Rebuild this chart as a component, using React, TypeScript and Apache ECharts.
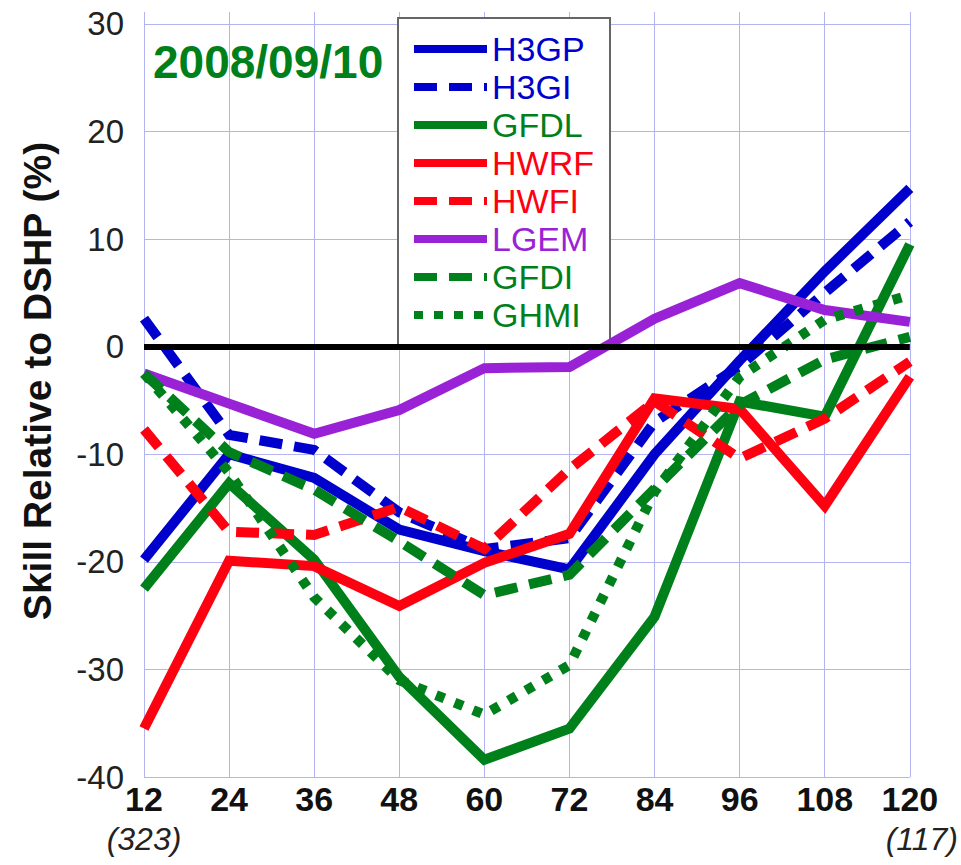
import React, { useEffect, useRef } from "react";
import * as echarts from "echarts";

const hours = ["12", "24", "36", "48", "60", "72", "84", "96", "108", "120"];
const caseCounts = { "12": "(323)", "120": "(117)" };
const yTicks = [-40, -30, -20, -10, 0, 10, 20, 30];

const H3GP = [-19.8, -10, -12.2, -17, -19, -20.7, -10, -1.3, 7, 14.7];
const H3GI = [2.6, -8.2, -9.6, -15.4, -18.8, -17.8, -7, -1.8, 5, 11.6];
const GFDL = [-22.5, -12.7, -19.8, -30.7, -38.4, -35.5, -25.1, -5.1, -6.5, 9.5];
const HWRF = [-35.5, -19.9, -20.4, -24.1, -20.1, -17.4, -4.8, -5.8, -14.8, -2.8];
const HWFI = [-7.7, -17.2, -17.5, -14.9, -18.8, -11.4, -5.1, -10.4, -6.7, -1.4];
const LGEM = [-2.5, -5.3, -8.1, -5.9, -2, -1.9, 2.6, 5.9, 3.4, 2.3];
const GFDI = [-2.5, -9.8, -13.3, -18.1, -23.1, -21.2, -13.2, -5.4, -1.2, 0.9];
const GHMI = [-2.5, -11.7, -23.3, -31, -34.2, -29.6, -13.5, -2.8, 2.5, 4.8];

const BLUE = "#0000cc";
const GREEN = "#00801a";
const RED = "#ff0010";
const PURPLE = "#9a22d6";

const FONT = "'Liberation Sans', Arial, sans-serif";

const DASH = [23, 12];
const DOT = [9, 11];

const seriesDefs = [
  { name: "H3GP", data: H3GP, color: BLUE, type: "solid" as any },
  { name: "H3GI", data: H3GI, color: BLUE, type: DASH as any },
  { name: "GFDL", data: GFDL, color: GREEN, type: "solid" as any },
  { name: "HWRF", data: HWRF, color: RED, type: "solid" as any },
  { name: "HWFI", data: HWFI, color: RED, type: DASH as any },
  { name: "LGEM", data: LGEM, color: PURPLE, type: "solid" as any },
  { name: "GFDI", data: GFDI, color: GREEN, type: DASH as any },
  { name: "GHMI", data: GHMI, color: GREEN, type: DOT as any },
];

export default function App() {
  const ref = useRef<HTMLDivElement>(null);
  useEffect(() => {
    if (!ref.current) return;
    const chart = echarts.init(ref.current, null, { renderer: "svg" });
    const gridColor = "#b4b4f2";
    const splitColors = yTicks.map(() => gridColor).concat(["rgba(0,0,0,0)"]);
    const option: any = {
      animation: false,
      backgroundColor: "#ffffff",
      textStyle: { fontFamily: FONT },
      grid: { left: 144, right: 48, top: 12, bottom: 88 },
      xAxis: {
        type: "category",
        data: hours,
        boundaryGap: false,
        axisLine: { show: false },
        axisTick: { show: false },
        splitLine: { show: true, lineStyle: { color: gridColor, width: 1 } },
        axisLabel: {
          margin: 2,
          interval: 0,
          formatter: (v: string) => {
            const c = (caseCounts as any)[v];
            if (!c) return `{b|${v}}`;
            return v === "120" ? `{b|${v}}\n{j|${c}}` : `{b|${v}}\n{i|${c}}`;
          },
          rich: {
            b: { fontSize: 34, fontWeight: "bold", color: "#111", lineHeight: 40, fontFamily: FONT },
            i: { fontSize: 32, fontStyle: "italic", color: "#222", lineHeight: 40, fontFamily: FONT },
            j: { fontSize: 32, fontStyle: "italic", color: "#222", lineHeight: 40, fontFamily: FONT, padding: [0, 0, 0, 24] },
          },
        },
      },
      yAxis: {
        type: "value",
        min: -40,
        max: 31.1,
        interval: 10,
        axisLine: { show: false },
        axisTick: { show: false },
        splitLine: { show: true, lineStyle: { color: splitColors, width: 1 } },
        axisLabel: {
          showMaxLabel: false,
          margin: 20,
          fontSize: 33,
          color: "#222",
          fontFamily: FONT,
          formatter: (v: number) => (v % 10 === 0 ? String(v) : ""),
        },
      },
      legend: {
        orient: "vertical",
        left: 410,
        top: 32,
        padding: 0,
        itemWidth: 73,
        itemHeight: 12,
        itemGap: 4,
        selectedMode: false,
        itemStyle: { color: "rgba(0,0,0,0)", borderWidth: 0, borderColor: "rgba(0,0,0,0)" },
        lineStyle: { width: 8, cap: "butt" },
        textStyle: { fontSize: 34, lineHeight: 34, fontFamily: FONT },
        data: seriesDefs.map((s) => ({ name: s.name, textStyle: { color: s.color } })),
      },
      graphic: [
        {
          type: "rect",
          z: 1,
          shape: { x: 398, y: 18, width: 212, height: 327 },
          style: { fill: "#ffffff", stroke: "#666666", lineWidth: 2 },
        },
        {
          type: "text",
          z: 5,
          x: 153,
          y: 62,
          style: {
            text: "2008/09/10",
            fill: GREEN,
            font: `bold 46px ${FONT}`,
            textAlign: "left",
            textVerticalAlign: "middle",
          },
        },
        {
          type: "text",
          z: 5,
          x: 37,
          y: 381,
          rotation: Math.PI / 2,
          style: {
            text: "Skill Relative to DSHP (%)",
            fill: "#111",
            font: `bold 39px ${FONT}`,
            textAlign: "center",
            textVerticalAlign: "middle",
          },
        },
      ],
      series: [
        ...seriesDefs.map((s) => ({
          name: s.name,
          type: "line",
          data: s.data,
          symbol: "none",
          showSymbol: false,
          z: 3,
          color: s.color,
          lineStyle: { color: s.color, width: 10, type: s.type, cap: "butt", join: "miter" },
        })),
        {
          name: "zero",
          type: "line",
          data: [],
          z: 2,
          markLine: {
            silent: true,
            symbol: "none",
            label: { show: false },
            lineStyle: { color: "#000", width: 6, type: "solid" },
            data: [{ yAxis: 0 }],
          },
        },
      ],
    };
    chart.setOption(option);
    return () => chart.dispose();
  }, []);
  return (
    <div
      ref={ref}
      style={{ position: "fixed", left: 0, top: 0, width: 961, height: 865, background: "#fff" }}
    />
  );
}
